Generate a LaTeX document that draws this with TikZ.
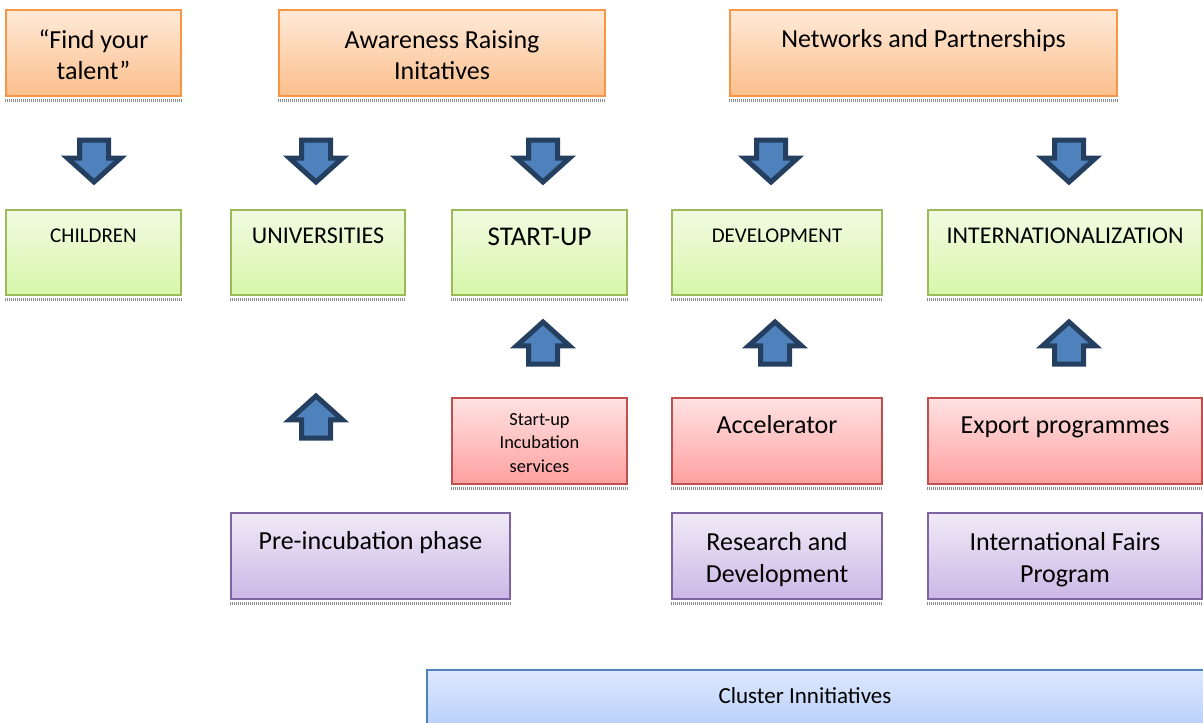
\documentclass[tikz,border=0pt]{standalone}
\usepackage{fontspec}
\setmainfont{Carlito}
\usepackage{tikz}
\usetikzlibrary{positioning,shapes.arrows}
\definecolor{orangeline}{RGB}{247,150,70}
\definecolor{orangetop}{RGB}{255,234,216}
\definecolor{orangebot}{RGB}{251,190,140}
\definecolor{greenline}{RGB}{155,187,89}
\definecolor{greentop}{RGB}{242,251,226}
\definecolor{greenbot}{RGB}{216,246,170}
\definecolor{redline}{RGB}{192,80,77}
\definecolor{redtop}{RGB}{255,226,226}
\definecolor{redbot}{RGB}{255,160,160}
\definecolor{purpleline}{RGB}{128,100,162}
\definecolor{purpletop}{RGB}{240,234,247}
\definecolor{purplebot}{RGB}{203,184,230}
\definecolor{blueline}{RGB}{79,129,189}
\definecolor{bluetop}{RGB}{222,232,254}
\definecolor{bluebot}{RGB}{168,198,248}
\definecolor{arrowfill}{RGB}{79,129,189}
\definecolor{arrowdark}{RGB}{36,63,96}
\tikzset{
  phase-box/.style={rectangle, line width=1pt, minimum height=42.5pt, inner sep=0pt},
  orange-box/.style={phase-box, draw=orangeline, top color=orangetop, bottom color=orangebot, minimum height=43pt},
  green-box/.style={phase-box, draw=greenline, top color=greentop, bottom color=greenbot},
  red-box/.style={phase-box, draw=redline, top color=redtop, bottom color=redbot, minimum height=43pt},
  purple-box/.style={phase-box, draw=purpleline, top color=purpletop, bottom color=purplebot, minimum height=43pt},
  blue-box/.style={phase-box, draw=blueline, top color=bluetop, bottom color=bluebot, minimum height=40pt},
  box-shadow/.style={draw=black!45, line width=1.5pt, dash pattern=on 0.5pt off 0.5pt},
  box-text/.style={inner sep=0pt, align=center, execute at begin node=\strut},
  big-text/.style={box-text, font=\fontsize{13}{15.5}\selectfont},
  mid-text/.style={box-text, font=\fontsize{12}{14.4}\selectfont},
  small-text/.style={box-text, font=\fontsize{10.5}{12.8}\selectfont},
  tiny-text/.style={box-text, font=\fontsize{9.2}{11.8}\selectfont},
  block-arrow/.style={single arrow, fill=arrowfill, draw=arrowdark, line width=2.5pt,
    minimum height=21pt, minimum width=24pt, single arrow head extend=6pt,
    single arrow tip angle=96, inner xsep=6pt, inner ysep=2pt, anchor=tail},
  down-arrow/.style={block-arrow, shape border rotate=270},
  up-arrow/.style={block-arrow, shape border rotate=90}
}

\begin{document}
\begin{tikzpicture}[x=0.5pt, y=-0.5pt]
\useasboundingbox (0,0) rectangle (1203,722);
\clip (0,0) rectangle (1203,722);

% Initiatives on top
\node[orange-box, minimum width=87.5pt] (talent) at (93.5,53) {};
\node[orange-box, minimum width=163pt] (aware) at (442,53) {};
\node[orange-box, minimum width=193.5pt] (network) at (923.5,53) {};

% Target groups
\node[green-box, minimum width=87.5pt] (children) at (93.5,252.5) {};
\node[green-box, minimum width=87pt] (univ) at (318,252.5) {};
\node[green-box, minimum width=87.5pt] (startup) at (539.5,252.5) {};
\node[green-box, minimum width=105pt] (develop) at (777,252.5) {};
\node[green-box, minimum width=137pt] (intl) at (1065,252.5) {};

% Support services
\node[red-box, minimum width=87.5pt] (incub) at (539.5,441) {};
\node[red-box, minimum width=105pt] (accel) at (777,441) {};
\node[red-box, minimum width=137pt] (export) at (1065,441) {};

% Programmes
\node[purple-box, minimum width=139.5pt] (preinc) at (370.5,556) {};
\node[purple-box, minimum width=105pt] (research) at (777,556) {};
\node[purple-box, minimum width=137pt] (fairs) at (1065,556) {};

\node[blue-box, minimum width=400pt] (cluster) at (827,710) {};

% Shadows under the boxes
\foreach \b in {talent,aware,network,children,univ,startup,develop,intl,incub,accel,export,preinc,research,fairs}
  \draw[box-shadow] ([yshift=-1.6pt]\b.south west) -- ([yshift=-1.6pt]\b.south east);

% Texts
\node[big-text, below=10.3pt of talent.north] (talenttxt) {``Find your\\talent''};
\node[big-text, below=10.8pt of aware.north] (awaretxt) {Awareness Raising\\Initatives};
\node[big-text, below=8.3pt of network.north] (networktxt) {Networks and Partnerships};
\node[small-text, below=7.4pt of children.north] (childrentxt) {CHILDREN};
\node[mid-text, below=6.8pt of univ.north] (univtxt) {UNIVERSITIES};
\node[big-text, font=\fontsize{13.5}{16}\selectfont, below=6.6pt of startup.north] (startuptxt) {START-UP};
\node[small-text, below=7.4pt of develop.north] (developtxt) {DEVELOPMENT};
\node[mid-text, below=6.8pt of intl.north] (intltxt) {INTERNATIONALIZATION};
\node[tiny-text, below=7.9pt of incub.north] (incubtxt) {Start-up\\Incubation\\services};
\node[big-text, below=7.3pt of accel.north] (acceltxt) {Accelerator};
\node[big-text, below=7.3pt of export.north] (exporttxt) {Export programmes};
\node[big-text, below=7.6pt of preinc.north] (preinctxt) {Pre-incubation phase};
\node[big-text, font=\fontsize{13}{16}\selectfont, below=10.1pt of research.north] (researchtxt) {Research and\\Development};
\node[big-text, font=\fontsize{13}{16}\selectfont, below=10.1pt of fairs.north] (fairstxt) {International Fairs\\Program};
\node[big-text, font=\fontsize{11.5}{14}\selectfont, below=7pt of cluster.north, xshift=-11pt] (clustertxt) {Cluster Innitiatives};

% Block arrows
\node[down-arrow] (d1) at (94,137.5) {};
\node[down-arrow] (d2) at (316,137.5) {};
\node[down-arrow] (d3) at (543,137.5) {};
\node[down-arrow] (d4) at (771,137.5) {};
\node[down-arrow] (d5) at (1069,137.5) {};
\node[up-arrow] (u1) at (316,440.5) {};
\node[up-arrow] (u2) at (543,366.5) {};
\node[up-arrow] (u3) at (775,366.5) {};
\node[up-arrow] (u4) at (1069,366.5) {};
\end{tikzpicture}
\end{document}
